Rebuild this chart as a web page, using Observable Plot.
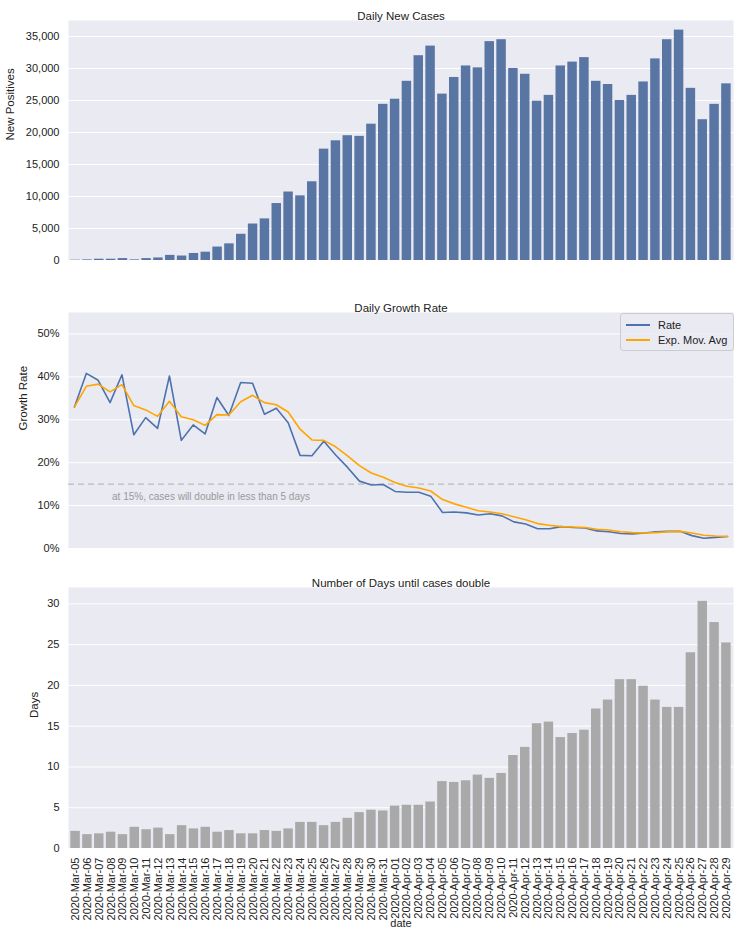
<!DOCTYPE html>
<html>
<head>
<meta charset="utf-8">
<script src="https://cdn.jsdelivr.net/npm/d3@7"></script>
<script src="https://cdn.jsdelivr.net/npm/@observablehq/plot@0.6"></script>
<style>
  body { margin: 0; background: white; font-family: "Liberation Sans", Arial, sans-serif; }
  #chart { position: relative; width: 741px; }
  #chart svg { display: block; }
  .lgd { position: absolute; left: 620px; top: 313px; background: rgba(234,234,242,0.8); white-space: nowrap;
    border: 1px solid #ccc; border-radius: 3px; font-size: 11px; color: #222; padding: 3px 6px 3px 5px; }
  .lgd .row { display: flex; align-items: center; height: 15px; }
  .lgd .sw { display: inline-block; width: 24px; height: 2px; margin-right: 8px; }
</style>
</head>
<body>
<div id="chart"></div>
<script>
const dates = d3.timeDay.range(new Date(2020, 2, 5), new Date(2020, 3, 30)).map(d3.timeFormat("%Y-%b-%d"))

const newCases = [50, 100, 200, 200, 300, 100, 300, 400, 800, 700, 1100, 1300, 2100, 2600, 4100, 5700, 6500, 8900, 10700, 10100,
  12300, 17400, 18700, 19500, 19400, 21300, 24400, 25200, 28000, 32000, 33500, 26000, 28600, 30400, 30100, 34200, 34500, 30000,
  29100, 24900, 25800, 30400, 31000, 31700, 28000, 27500, 25000, 25800, 27900, 31500, 34500, 36000, 26900, 22000, 24400, 27600]

const rate = [33, 40.8, 39.2, 34, 40.5, 26.5, 30.5, 28, 40.2, 25.2, 28.8, 26.7, 35.2, 31, 38.7, 38.5, 31.3, 32.7, 29.3, 21.7,
  21.6, 25, 21.8, 18.9, 15.7, 14.8, 14.9, 13.3, 13.1, 13.1, 12.2, 8.4, 8.5, 8.3, 7.8, 8.1, 7.6, 6.2, 5.7, 4.6, 4.6, 5.1, 4.9,
  4.8, 4.1, 3.9, 3.5, 3.4, 3.6, 3.9, 4.0, 4.0, 3.0, 2.4, 2.6, 2.8]

const ema = [33, 37.8, 38.3, 36.5, 38.2, 33.3, 32.3, 30.8, 34.3, 30.7, 30, 28.7, 31.2, 31.1, 34.2, 35.7, 34, 33.5, 31.8, 27.8,
  25.3, 25.2, 23.7, 21.6, 19.3, 17.6, 16.6, 15.4, 14.5, 14.1, 13.4, 11.4, 10.4, 9.6, 8.8, 8.5, 8.1, 7.4, 6.7, 5.8, 5.4, 5.1,
  5.0, 4.9, 4.5, 4.3, 3.9, 3.7, 3.6, 3.7, 3.9, 4.0, 3.6, 3.1, 2.9, 2.8]

const days = [2.1, 1.7, 1.8, 2.0, 1.7, 2.6, 2.3, 2.5, 1.7, 2.8, 2.4, 2.6, 2.0, 2.2, 1.8, 1.8, 2.2, 2.1, 2.4, 3.2, 3.2, 2.8,
  3.2, 3.7, 4.4, 4.7, 4.6, 5.2, 5.3, 5.3, 5.7, 8.2, 8.1, 8.3, 9.0, 8.6, 9.2, 11.4, 12.4, 15.3, 15.5, 13.6, 14.1, 14.5, 17.1,
  18.2, 20.7, 20.7, 19.9, 18.2, 17.3, 17.3, 24.0, 30.3, 27.7, 25.2]

const data = dates.map((d, i) => ({date: d, cases: newCases[i], rate: rate[i] / 100, ema: ema[i] / 100, days: days[i]}))

const base = {
  width: 741, marginLeft: 68, marginRight: 8,
  style: {fontFamily: "Liberation Sans, Arial, sans-serif", fontSize: "11px", color: "#222", background: "white"}
}
const bg = Plot.frame({fill: "#eaeaf2", stroke: null})
const title = t => Plot.text([t], {frameAnchor: "top", dy: -9, fontSize: 11.5, fill: "#222"})
// y labels drawn as text so no arrow shows up
const ylab = (t, off) => Plot.text([t], {frameAnchor: "left", dx: -off, rotate: -90, fontSize: 11.5, fill: "#222"})

let p1 = Plot.plot({
  ...base, height: 268, marginTop: 20, marginBottom: 8,
  x: {type: "band", domain: dates, padding: 0.2, axis: null},
  y: {domain: [0, 37500], ticks: d3.range(0, 35001, 5000), tickFormat: d3.format(","), label: null, tickSize: 0},
  marks: [
    bg,
    Plot.gridY(d3.range(0, 35001, 5000), {stroke: "white", strokeOpacity: 1}),
    Plot.barY(data, {x: "date", y: "cases", fill: "#5975a4"}),
    title("Daily New Cases"),
    ylab("New Positives", 58)
  ]
})

let p2 = Plot.plot({
  ...base, height: 290, marginTop: 44, marginBottom: 10,
  x: {type: "point", domain: dates, padding: 0.5, axis: null},
  y: {domain: [0, 0.55], ticks: d3.range(0, 0.51, 0.1), tickFormat: d3.format(".0%"), label: null, tickSize: 0},
  marks: [
    bg,
    Plot.gridY(d3.range(0, 0.51, 0.1), {stroke: "white", strokeOpacity: 1}),
    Plot.ruleY([0.15], {stroke: "#bbb", strokeDasharray: "6,4", strokeWidth: 1.2}),
    Plot.text(["at 15%, cases will double in less than 5 days"], {x: () => dates[3], y: () => 0.15, dy: 13, dx: 2,
      textAnchor: "start", fill: "#999", fontSize: 10}),
    Plot.line(data, {x: "date", y: "rate", stroke: "#4c72b0", strokeWidth: 1.6}),
    Plot.line(data, {x: "date", y: "ema", stroke: "orange", strokeWidth: 1.6}),
    title("Daily Growth Rate"),
    ylab("Growth Rate", 45)
  ]
})

let p3 = Plot.plot({
  ...base, height: 372, marginTop: 29, marginBottom: 82,
  x: {type: "band", domain: dates, padding: 0.2, tickRotate: -90, tickSize: 0, label: "date", labelAnchor: "center",
      labelOffset: 78},
  y: {domain: [0, 32], ticks: d3.range(0, 31, 5), label: null, tickSize: 0},
  marks: [
    bg,
    Plot.gridY(d3.range(0, 31, 5), {stroke: "white", strokeOpacity: 1}),
    Plot.barY(data, {x: "date", y: "days", fill: "#a9a9a9"}),
    title("Number of Days until cases double"),
    ylab("Days", 34)
  ]
})

const chart = d3.select("#chart")
chart.append(() => p1)
chart.append(() => p2)
chart.append(() => p3)
chart.append("div").attr("class", "lgd").html(
  '<div class="row"><span class="sw" style="background:#4c72b0"></span>Rate</div>' +
  '<div class="row"><span class="sw" style="background:orange"></span>Exp. Mov. Avg</div>')
</script>
</body>
</html>
